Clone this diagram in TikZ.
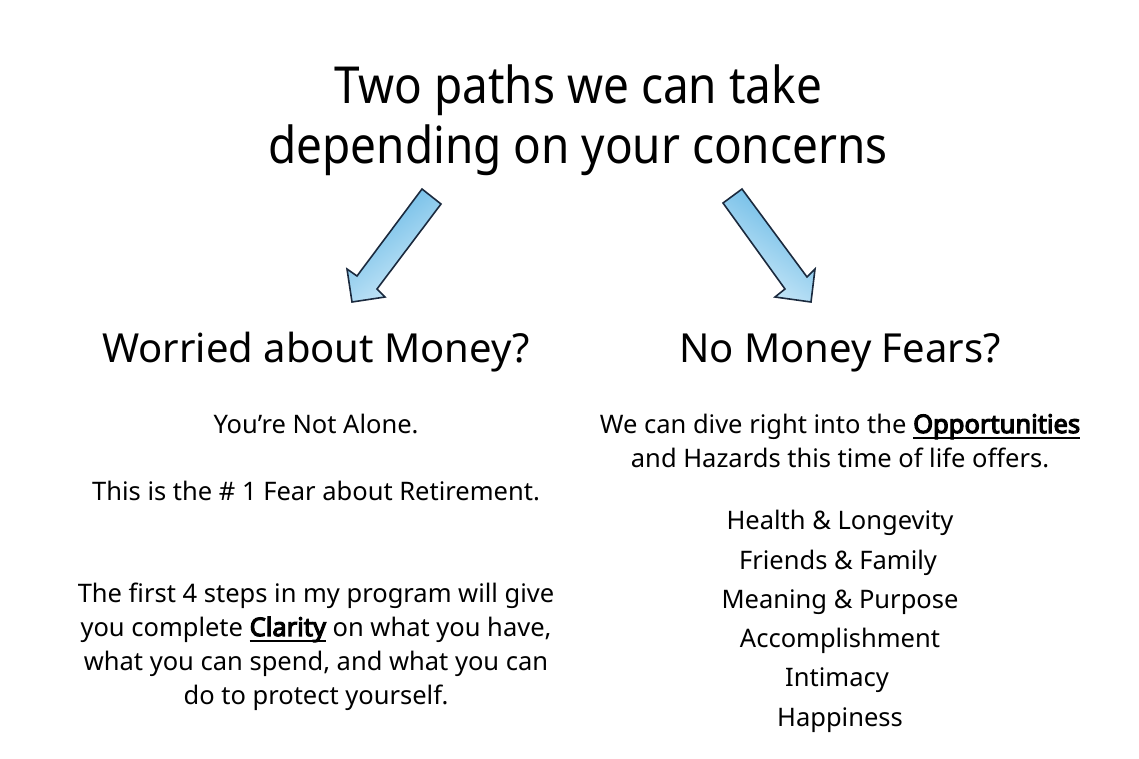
\documentclass[tikz,border=0pt]{standalone}
\usepackage{fontspec}
\setmainfont{Noto Sans}
\newfontfamily\narrowfont[FakeStretch=0.9]{Noto Sans}
\newfontfamily\boldfont[FakeBold=4.5]{Noto Sans}
\newcommand\ulbold[1]{\leavevmode\setbox0\hbox{\boldfont #1}\rlap{\vrule width \wd0 height -3.8pt depth 5.6pt}\box0\relax}
\usetikzlibrary{shadings}
\definecolor{arrowedge}{HTML}{1B2A3E}
\definecolor{arrowlight}{HTML}{D2ECFA}
\definecolor{arrowdark}{HTML}{62B6E4}
\tikzset{
  bigarrow/.style={draw=arrowedge, line width=1.6pt, line join=miter, left color=arrowdark, right color=arrowlight},
  title/.style={font=\narrowfont\fontsize{51}{60}\selectfont, anchor=base, inner sep=0pt},
  heading/.style={font=\fontsize{40}{47}\selectfont, anchor=base, inner sep=0pt},
  body/.style={font=\fontsize{25.5}{34}\selectfont, anchor=base, inner sep=0pt},
}
\begin{document}
\begin{tikzpicture}[x=1pt,y=-1pt]
\useasboundingbox (0,0) rectangle (1139,758);
\node[title] (t1) at (578,103) {Two paths we can take};
\node[title] (t2) at (578,163) {depending on your concerns};
% left arrow
\path[bigarrow, shading angle=37] (422,189) -- (441,204) -- (377,289) -- (385,297) -- (352,302) -- (347,269) -- (357,276) -- cycle;
% right arrow
\path[bigarrow, shading angle=-35] (723,203) -- (742,189) -- (807,277) -- (815,269) -- (811,302) -- (775,297) -- (785,289) -- cycle;
\node[heading] (h1) at (316,362) {Worried about Money?};
\node[heading] (h2) at (840,362) {No Money Fears?};
\node[body] (l1) at (316,433) {You’re Not Alone.};
\node[body] (l2) at (316,500) {This is the \# 1 Fear about Retirement.};
\node[body] (l3a) at (316,602) {The first 4 steps in my program will give};
\node[body] (l3b) at (316,636) {you complete \ulbold{Clarity} on what you have,};
\node[body] (l3c) at (316,670) {what you can spend, and what you can};
\node[body] (l3d) at (316,704) {do to protect yourself.};
\node[body] (r1a) at (840,433) {We can dive right into the \ulbold{Opportunities}};
\node[body] (r1b) at (840,467) {and Hazards this time of life offers.};
\node[body] (r2) at (840,529) {Health \& Longevity};
\node[body] (r3) at (838,569) {Friends \& Family};
\node[body] (r4) at (840,608) {Meaning \& Purpose};
\node[body] (r5) at (840,647) {Accomplishment};
\node[body] (r6) at (837,686) {Intimacy};
\node[body] (r7) at (840,726) {Happiness};
\end{tikzpicture}
\end{document}
